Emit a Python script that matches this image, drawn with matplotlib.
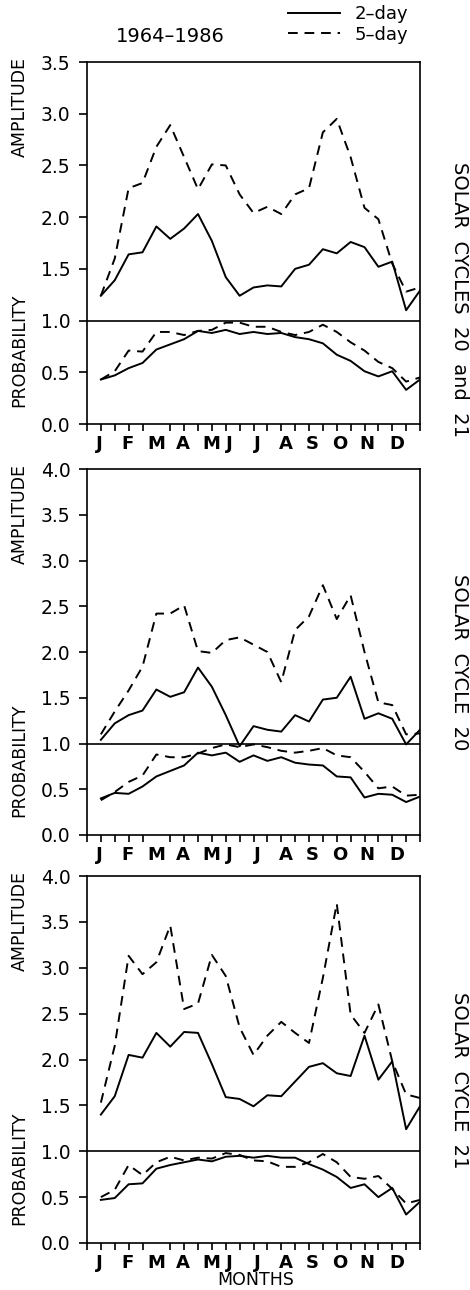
import matplotlib.pyplot as plt
import numpy as np

plt.rcParams['font.family'] = 'DejaVu Sans'

# half-month steps, J at step 1 ... end of D at step 24
half_months = np.arange(1, 25)
month_names = ['J', 'F', 'M', 'A', 'M', 'J', 'J', 'A', 'S', 'O', 'N', 'D']
month_label_pos = [0.87, 2.89, 5.0, 6.94, 8.97, 10.27, 12.29, 14.3, 16.2, 18.2, 20.2, 22.3]

# solar cycles 20 and 21 (1964-1986)
amp2_c2021 = [1.24, 1.39, 1.64, 1.66, 1.91, 1.79, 1.89, 2.03, 1.77, 1.42, 1.24, 1.32,
              1.34, 1.33, 1.50, 1.54, 1.69, 1.65, 1.76, 1.71, 1.52, 1.57, 1.10, 1.29]
amp5_c2021 = [1.24, 1.60, 2.28, 2.33, 2.68, 2.89, 2.58, 2.27, 2.51, 2.50, 2.22, 2.04,
              2.10, 2.03, 2.22, 2.28, 2.82, 2.95, 2.58, 2.09, 1.98, 1.55, 1.28, 1.32]
prob2_c2021 = [0.43, 0.47, 0.54, 0.59, 0.72, 0.77, 0.82, 0.90, 0.88, 0.91, 0.87, 0.89,
               0.87, 0.88, 0.84, 0.82, 0.78, 0.67, 0.61, 0.51, 0.46, 0.51, 0.33, 0.43]
prob5_c2021 = [0.43, 0.51, 0.71, 0.70, 0.89, 0.89, 0.86, 0.90, 0.91, 0.98, 0.98, 0.94,
               0.94, 0.89, 0.86, 0.89, 0.96, 0.89, 0.79, 0.71, 0.60, 0.54, 0.41, 0.45]

# solar cycle 20
amp2_c20 = [1.04, 1.22, 1.31, 1.36, 1.59, 1.51, 1.56, 1.83, 1.62, 1.31, 0.97, 1.19,
            1.15, 1.13, 1.31, 1.24, 1.48, 1.50, 1.73, 1.27, 1.33, 1.27, 0.99, 1.15]
amp5_c20 = [1.10, 1.35, 1.58, 1.84, 2.42, 2.42, 2.51, 2.01, 1.99, 2.13, 2.16, 2.08,
            2.00, 1.67, 2.24, 2.39, 2.73, 2.36, 2.62, 2.00, 1.45, 1.42, 1.10, 1.11]
prob2_c20 = [0.40, 0.46, 0.45, 0.53, 0.64, 0.70, 0.76, 0.90, 0.87, 0.90, 0.80, 0.87,
             0.81, 0.85, 0.79, 0.77, 0.76, 0.64, 0.63, 0.41, 0.45, 0.44, 0.36, 0.42]
prob5_c20 = [0.38, 0.47, 0.58, 0.65, 0.88, 0.85, 0.85, 0.89, 0.95, 0.99, 0.96, 0.99,
             0.96, 0.92, 0.90, 0.92, 0.95, 0.87, 0.85, 0.69, 0.51, 0.53, 0.43, 0.44]

# solar cycle 21
amp2_c21 = [1.40, 1.60, 2.05, 2.02, 2.29, 2.14, 2.30, 2.29, 1.95, 1.59, 1.57, 1.49,
            1.61, 1.60, 1.76, 1.92, 1.96, 1.85, 1.82, 2.26, 1.78, 1.98, 1.24, 1.49]
amp5_c21 = [1.53, 2.15, 3.13, 2.93, 3.06, 3.46, 2.55, 2.61, 3.14, 2.91, 2.35, 2.05,
            2.26, 2.41, 2.29, 2.18, 2.89, 3.70, 2.49, 2.29, 2.60, 1.98, 1.62, 1.58]
prob2_c21 = [0.47, 0.49, 0.64, 0.65, 0.81, 0.85, 0.88, 0.91, 0.89, 0.94, 0.95, 0.93,
             0.95, 0.93, 0.93, 0.86, 0.80, 0.72, 0.60, 0.64, 0.50, 0.60, 0.31, 0.45]
prob5_c21 = [0.50, 0.58, 0.85, 0.74, 0.88, 0.94, 0.90, 0.93, 0.92, 0.98, 0.96, 0.90,
             0.89, 0.83, 0.83, 0.88, 0.97, 0.88, 0.72, 0.70, 0.73, 0.59, 0.43, 0.47]

panels = [
    ('SOLAR  CYCLES  20  and  21', 3.5, amp2_c2021, amp5_c2021, prob2_c2021, prob5_c2021),
    ('SOLAR  CYCLE  20', 4.0, amp2_c20, amp5_c20, prob2_c20, prob5_c20),
    ('SOLAR  CYCLE  21', 4.0, amp2_c21, amp5_c21, prob2_c21, prob5_c21),
]
# axes boxes in pixels: top, bottom
boxes = [(62, 424), (469, 835), (876, 1243)]
side_y = [0.343, 0.473, 0.444]

W, H = 470, 1290
LEFT, RIGHT = 87, 420
DASH = (0, (5, 3.5))


def main():
    fig = plt.figure(figsize=(W / 100, H / 100), dpi=100)
    handles = None
    for (name, ymax, a2, a5, p2, p5), (top, bot), sy in zip(panels, boxes, side_y):
        ax = fig.add_axes([LEFT / W, 1 - bot / H, (RIGHT - LEFT) / W, (bot - top) / H])
        l2, = ax.plot(half_months, a2, color='black', lw=1.4)
        l5, = ax.plot(half_months, a5, color='black', lw=1.4, linestyle=DASH)
        ax.plot(half_months, p2, color='black', lw=1.4)
        ax.plot(half_months, p5, color='black', lw=1.4, linestyle=DASH)
        ax.axhline(1.0, color='black', lw=1.2)
        handles = handles or [l2, l5]

        ax.set_xlim(0, 24)
        ax.set_ylim(0, ymax)
        ticks = np.arange(0, ymax + 0.01, 0.5)
        ax.set_yticks(ticks)
        ax.set_yticklabels(['%.1f' % v for v in ticks], fontsize=13.5)
        ax.tick_params(axis='y', direction='out', length=6, width=1.2, pad=6)
        ax.set_xticks(np.arange(0, 25), minor=True)
        ax.set_xticks(month_label_pos)
        ax.set_xticklabels(month_names, fontsize=13, fontweight='bold')
        ax.tick_params(axis='x', which='major', length=0, pad=8)
        ax.tick_params(axis='x', which='minor', direction='out', length=5, width=1.2)
        for sp in ax.spines.values():
            sp.set_linewidth(1.2)

        ax.text(-0.201, 0.877, 'AMPLITUDE', transform=ax.transAxes, rotation=90,
                ha='center', va='center', fontsize=12.5)
        ax.text(-0.204, 0.205, 'PROBABILITY', transform=ax.transAxes, rotation=90,
                ha='center', va='center', fontsize=12.5)
        ax.text(1.12, sy, name, transform=ax.transAxes, rotation=-90,
                ha='center', va='center', fontsize=14)

    fig.text(256 / W, 1 / H, 'MONTHS', ha='center', va='bottom', fontsize=12.5)
    fig.text(170 / W, 1 - 36 / H, '1964\u20131986', ha='center', va='center', fontsize=14)
    fig.legend(handles, ['2\u2013day', '5\u2013day'], loc='upper left',
               bbox_to_anchor=(288 / W, 1 - 5 / H), frameon=False, fontsize=13,
               handlelength=2.9, handletextpad=0.8, labelspacing=0.15,
               borderpad=0, borderaxespad=0)
    fig.savefig('out.png', dpi=100)


if __name__ == '__main__':
    main()
